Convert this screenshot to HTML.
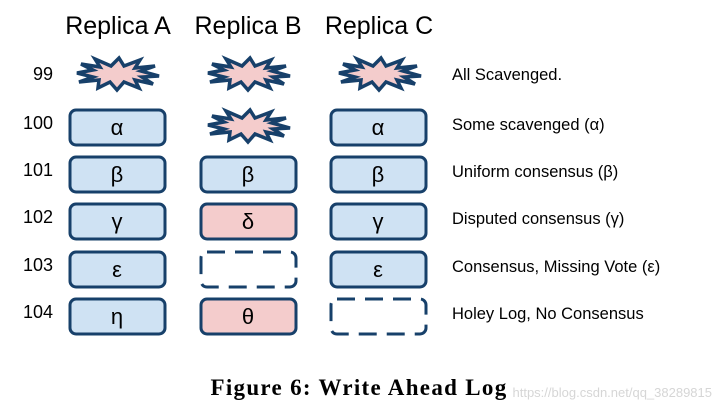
<!DOCTYPE html>
<html><head><meta charset="utf-8"><style>
html,body{margin:0;padding:0;background:#fff;}
</style></head><body>
<svg width="725" height="411" viewBox="0 0 725 411" xmlns="http://www.w3.org/2000/svg" font-family="Liberation Sans, DejaVu Sans, sans-serif">
<defs>
<polygon id="st" points="42,2 25,3 36,10 18,6 22,14 7,8 0,16 -7,8 -19,14 -18,6 -38,8 -24,3 -40,-1 -24,-4 -36,-10 -17,-7 -22,-15 -6,-8 2,-16 7,-8 23,-14 18,-6 38,-8 24,-3" fill="#f4cccc" stroke="#17406a" stroke-width="3.5" stroke-linejoin="miter"/>
</defs>
<g font-size="25" fill="#000" text-anchor="middle">
<text x="118" y="34">Replica A</text>
<text x="248" y="34">Replica B</text>
<text x="379" y="34">Replica C</text>
</g>
<g font-size="18" text-anchor="end">
<text x="53" y="80">99</text>
<text x="53" y="129">100</text>
<text x="53" y="176">101</text>
<text x="53" y="223">102</text>
<text x="53" y="271">103</text>
<text x="53" y="318">104</text>
</g>
<g font-size="16.5">
<text x="452" y="80">All Scavenged.</text>
<text x="452" y="130">Some scavenged (α)</text>
<text x="452" y="177">Uniform consensus (β)</text>
<text x="452" y="224">Disputed consensus (γ)</text>
<text x="452" y="272">Consensus, Missing Vote (ε)</text>
<text x="452" y="319">Holey Log, No Consensus</text>
</g>
<use href="#st" x="117" y="74"/>
<use href="#st" x="248" y="74"/>
<use href="#st" x="379" y="74"/>
<use href="#st" x="248" y="126"/>
<g stroke="#17406a" stroke-width="3">
<rect x="70" y="110" width="95" height="35" rx="6" fill="#cfe2f3"/>
<rect x="331" y="110" width="95" height="35" rx="6" fill="#cfe2f3"/>
<rect x="70" y="157" width="95" height="35" rx="6" fill="#cfe2f3"/>
<rect x="201" y="157" width="95" height="35" rx="6" fill="#cfe2f3"/>
<rect x="331" y="157" width="95" height="35" rx="6" fill="#cfe2f3"/>
<rect x="70" y="204" width="95" height="35" rx="6" fill="#cfe2f3"/>
<rect x="201" y="204" width="95" height="35" rx="6" fill="#f4cccc"/>
<rect x="331" y="204" width="95" height="35" rx="6" fill="#cfe2f3"/>
<rect x="70" y="252" width="95" height="35" rx="6" fill="#cfe2f3"/>
<rect x="201" y="252" width="95" height="35" rx="6" fill="none" stroke-dasharray="18,10"/>
<rect x="331" y="252" width="95" height="35" rx="6" fill="#cfe2f3"/>
<rect x="70" y="299" width="95" height="35" rx="6" fill="#cfe2f3"/>
<rect x="201" y="299" width="95" height="35" rx="6" fill="#f4cccc"/>
<rect x="331" y="299" width="95" height="35" rx="6" fill="none" stroke-dasharray="18,10"/>
</g>
<g font-size="22" text-anchor="middle">
<text x="117" y="135">α</text>
<text x="378" y="135">α</text>
<text x="117" y="182">β</text>
<text x="248" y="182">β</text>
<text x="378" y="182">β</text>
<text x="117" y="229">γ</text>
<text x="248" y="229">δ</text>
<text x="378" y="229">γ</text>
<text x="117" y="277">ε</text>
<text x="378" y="277">ε</text>
<text x="117" y="324">η</text>
<text x="248" y="324">θ</text>
</g>
<text x="359" y="395" font-family="Liberation Serif, serif" font-weight="bold" font-size="23" text-anchor="middle" letter-spacing="1.3">Figure 6: Write Ahead Log</text>
<text x="712" y="397" font-size="13" fill="#ccc" text-anchor="end" opacity="0.8">https://blog.csdn.net/qq_38289815</text>
</svg>
</body></html>
